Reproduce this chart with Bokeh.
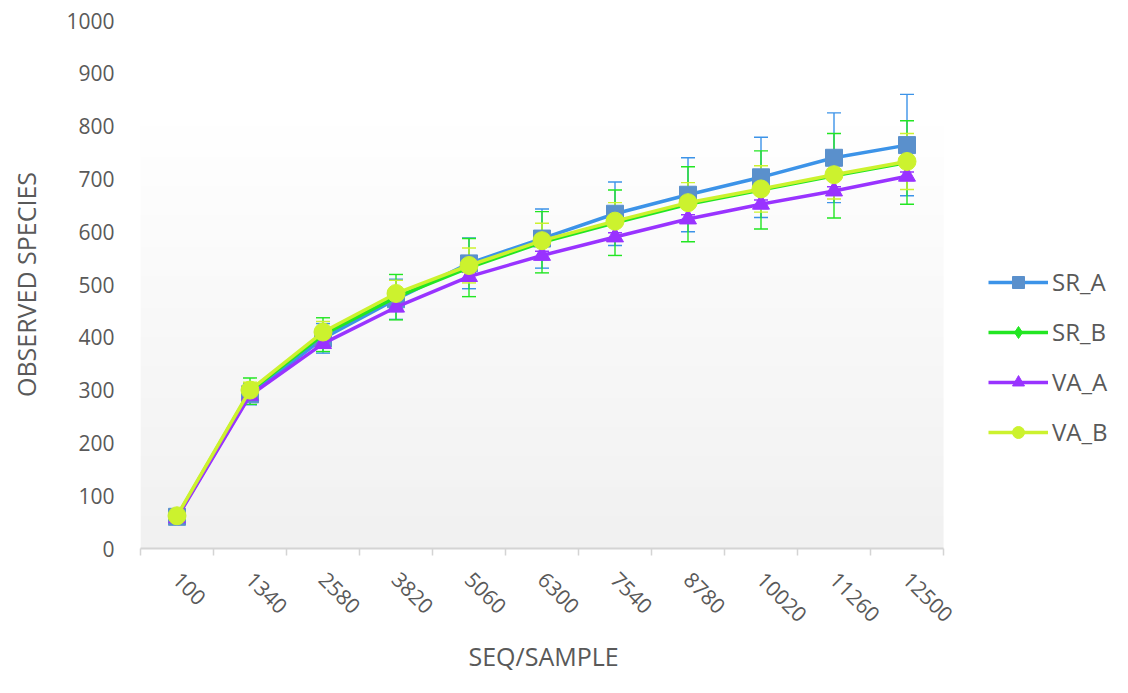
import numpy as np
from bokeh.plotting import figure
from bokeh.models import (ColumnDataSource, FixedTicker, Whisker, TeeHead, Legend,
                          LegendItem, Range1d, Title)
from bokeh.embed import file_html
from bokeh.resources import INLINE

# ---------------- data ----------------
seq = ["100", "1340", "2580", "3820", "5060", "6300", "7540", "8780", "10020", "11260", "12500"]
sr_a = [60, 292, 398, 472, 540, 587, 634, 670, 703, 740, 764]
sr_b = [60, 298, 405, 476, 532, 580, 617, 652, 679, 706, 731]
va_a = [58, 290, 388, 457, 515, 555, 590, 624, 652, 677, 705]
va_b = [62, 300, 410, 483, 536, 583, 620, 655, 681, 708, 733]
sr_a_err = [5, 20, 28, 38, 48, 56, 60, 70, 76, 85, 96]
sr_b_err = [5, 25, 32, 43, 55, 58, 62, 71, 74, 80, 79]
va_a_err = [3, 8, 8, 8, 8, 8, 8, 8, 8, 8, 8]
va_b_err = [4, 15, 20, 25, 33, 33, 35, 38, 44, 46, 53]
y_ticks = [0, 100, 200, 300, 400, 500, 600, 700, 800, 900, 1000]

names = ["SR_A", "SR_B", "VA_A", "VA_B"]
values = [sr_a, sr_b, va_a, va_b]
errors = [sr_a_err, sr_b_err, va_a_err, va_b_err]
line_colors = ["#3c93e8", "#22e622", "#9933ff", "#ccf22e"]
marker_colors = ["#5a90cc", "#22e622", "#9933ff", "#ccf22e"]
markers = ["square", "diamond", "triangle", "circle"]
marker_sizes = [17, 12, 17, 18]

xs = list(range(len(seq)))
n = len(seq)

# layout: the data area is 803px wide, the frame extends to the figure's right
# edge so that the legend can sit to the right of the data area
W, H = 1112, 677
left, data_w = 140, 803
frame_w = W - left
x_end = -0.5 + n * frame_w / data_w

p = figure(width=W, height=H, output_backend="svg", toolbar_location=None,
           x_range=Range1d(-0.5, x_end), y_range=Range1d(0, 1000),
           min_border_left=left, min_border_right=0, min_border_top=20,
           min_border_bottom=128)
p.outline_line_color = None
p.xgrid.visible = False
p.ygrid.visible = False
p.background_fill_color = "white"
p.border_fill_color = "white"

# background gradient of the data area
rows = 200
t = np.linspace(0, 1, rows)  # 0 bottom .. 1 top
shade = np.where(t > 0.8, 255, 255 - (0.8 - t) / 0.8 * 14)
img = np.zeros((rows, 1), dtype=np.uint32)
view = img.view(dtype=np.uint8).reshape((rows, 1, 4))
view[:, 0, 0] = shade.astype(np.uint8)
view[:, 0, 1] = shade.astype(np.uint8)
view[:, 0, 2] = shade.astype(np.uint8)
view[:, 0, 3] = 255
bg = p.image_rgba(image=[img], x=-0.5, y=0, dw=n, dh=1000)
bg.level = "image"

# axes
p.xaxis.bounds = (-0.5, n - 0.5)
p.xaxis.ticker = FixedTicker(ticks=xs, minor_ticks=[i - 0.5 for i in range(n + 1)])
p.xaxis.major_label_overrides = {i: s for i, s in enumerate(seq)}
p.xaxis.major_tick_out = 0
p.xaxis.major_tick_in = 0
p.xaxis.minor_tick_out = 7
p.xaxis.minor_tick_in = 0
p.xaxis.minor_tick_line_color = "#d4d4d4"
p.xaxis.minor_tick_line_width = 1.5
p.xaxis.axis_line_color = "#d4d4d4"
p.xaxis.axis_line_width = 2
p.xaxis.major_label_orientation = -np.pi / 4
p.xaxis.major_label_standoff = 20

p.yaxis.ticker = FixedTicker(ticks=y_ticks)
p.yaxis.axis_line_color = None
p.yaxis.major_tick_line_color = None
p.yaxis.minor_tick_line_color = None
p.yaxis.major_tick_out = 0
p.yaxis.major_label_standoff = 26
p.yaxis.axis_label = "OBSERVED SPECIES"
p.yaxis.axis_label_standoff = 20

for ax in (p.xaxis[0], p.yaxis[0]):
    ax.major_label_text_font = "Open Sans"
    ax.major_label_text_font_size = "21px"
    ax.major_label_text_color = "#595959"
    ax.axis_label_text_font = "Open Sans"
    ax.axis_label_text_font_size = "25px"
    ax.axis_label_text_font_style = "normal"
    ax.axis_label_text_color = "#595959"

# x axis title, centred under the data area
xtitle = Title(text="SEQ/SAMPLE", align="left", offset=328, standoff=9,
               text_font="Open Sans", text_font_size="25px",
               text_font_style="normal", text_color="#595959")
p.add_layout(xtitle, "below")

items = []
for name, vals, errs, lc, mc, mk, ms in zip(names, values, errors, line_colors,
                                             marker_colors, markers, marker_sizes):
    src = ColumnDataSource(dict(x=xs, y=vals,
                                upper=[v + e for v, e in zip(vals, errs)],
                                lower=[v - e for v, e in zip(vals, errs)]))
    w = Whisker(base="x", upper="upper", lower="lower", source=src,
                line_color=lc, line_width=1.4,
                upper_head=TeeHead(size=14, line_color=lc, line_width=1.4),
                lower_head=TeeHead(size=14, line_color=lc, line_width=1.4))
    p.add_layout(w)
    ln = p.line("x", "y", source=src, line_color=lc, line_width=3.5)
    sc = p.scatter("x", "y", source=src, marker=mk, size=ms, fill_color=mc,
                   line_color=mc)
    items.append(LegendItem(label=name, renderers=[ln, sc]))

legend = Legend(items=items, location=(848, 100), padding=0, margin=0,
                border_line_color=None, background_fill_alpha=0,
                glyph_width=60, glyph_height=30, label_height=30, spacing=17,
                label_standoff=4, label_text_font="Open Sans",
                label_text_font_size="24px", label_text_color="#595959")
p.add_layout(legend, "center")

open("out.html", "w").write(file_html(p, INLINE))
